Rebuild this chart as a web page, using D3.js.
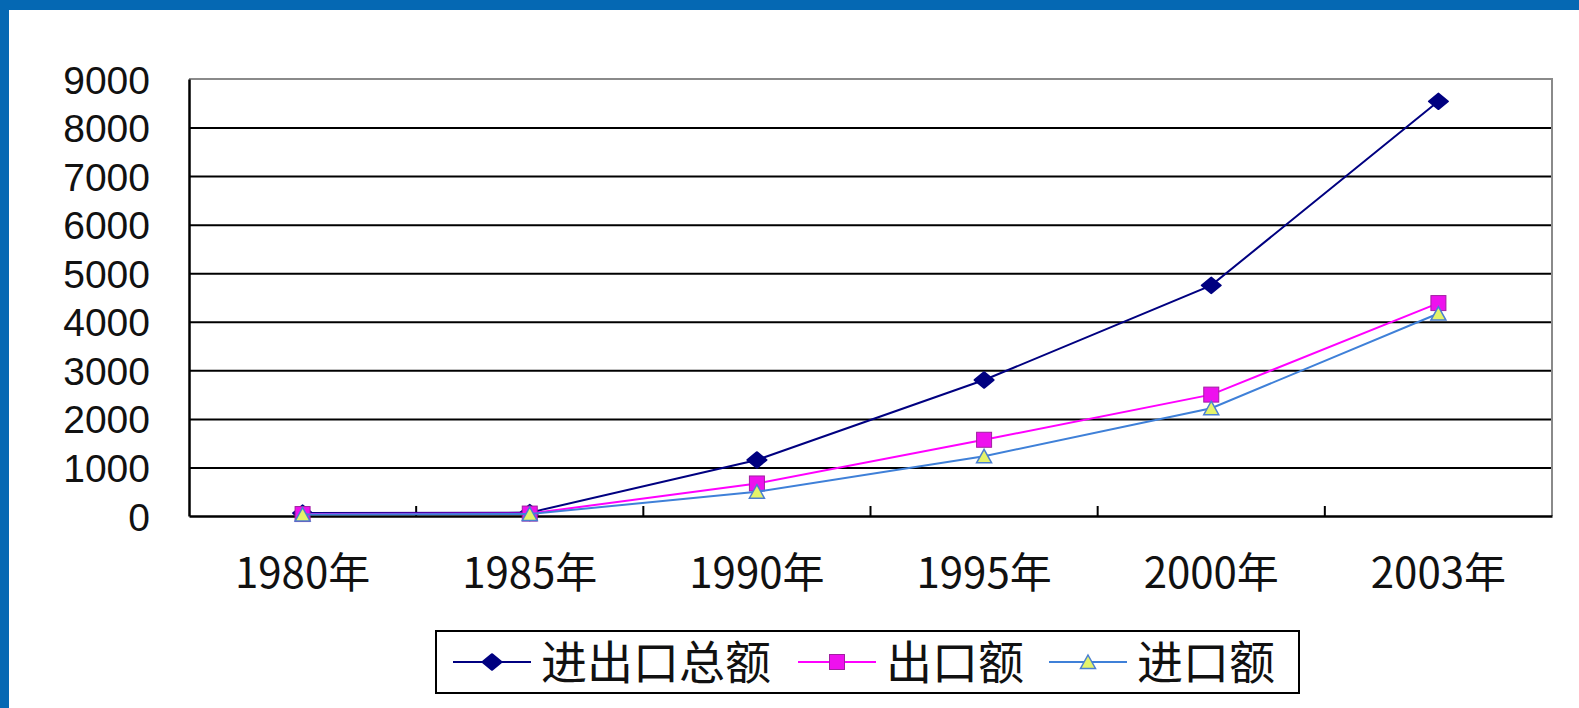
<!DOCTYPE html>
<html>
<head>
<meta charset="utf-8">
<script src="https://cdn.jsdelivr.net/npm/d3@7/dist/d3.min.js"></script>
<style>
html,body{margin:0;padding:0;background:#fff;}
svg{display:block;}
</style>
</head>
<body>
<svg id="chart" width="1579" height="708"></svg>
<script>
// ---- data ----
const years = ["1980年", "1985年", "1990年", "1995年", "2000年", "2003年"];
const totalValues = [60, 70, 1154, 2800, 4750, 8540];
const exportValues = [40, 50, 670, 1570, 2500, 4385];
const importValues = [30, 40, 500, 1230, 2220, 4170];
const seriesNames = ["进出口总额", "出口额", "进口额"];
const yTickValues = [0, 1000, 2000, 3000, 4000, 5000, 6000, 7000, 8000, 9000];

// ---- layout ----
const W = 1579, H = 708;
const plot = {left: 189, right: 1552, top: 79, bottom: 516};
const cjkFont = "'Noto Sans CJK SC','Liberation Sans',sans-serif";
const numFont = "'Liberation Sans','DejaVu Sans',sans-serif";
const svg = d3.select("#chart");

// blue frame
svg.append("rect").attr("x", 0).attr("y", 0).attr("width", W).attr("height", H).attr("fill", "#0568b3");
svg.append("rect").attr("x", 9).attr("y", 10).attr("width", W - 9).attr("height", H - 10).attr("fill", "#ffffff");

const x = d3.scaleBand().domain(years).range([plot.left, plot.right]).paddingInner(0).paddingOuter(0);
const y = d3.scaleLinear().domain([0, 9000]).range([plot.bottom, plot.top]);
const cx = d => x(d) + x.bandwidth() / 2;

// gridlines
const gridAxis = d3.axisLeft(y).tickValues(yTickValues.filter(v => v > 0 && v < 9000))
  .tickSize(-(plot.right - plot.left)).tickFormat("");
const gg = svg.append("g").attr("transform", `translate(${plot.left},0)`).call(gridAxis);
gg.select(".domain").remove();
gg.selectAll(".tick line").attr("stroke", "#000").attr("stroke-width", 2);

// plot border top/right (gray)
svg.append("path")
  .attr("d", `M${plot.left},${y(9000)}H${plot.right}V${plot.bottom}`)
  .attr("fill", "none").attr("stroke", "#8a8a8a").attr("stroke-width", 2);

// y axis labels
const yAxis = d3.axisLeft(y).tickValues(yTickValues).tickSize(0).tickPadding(39).tickFormat(d3.format("d"));
const ya = svg.append("g").attr("transform", `translate(${plot.left},0)`).call(yAxis);
ya.select(".domain").attr("stroke", "#000").attr("stroke-width", 2.5);
ya.selectAll("text").attr("dy", "0.36em")
  .style("font-family", numFont).style("font-size", "39px").style("fill", "#111");

// x axis
const xAxis = d3.axisBottom(x).tickSize(0).tickPadding(42);
const xa = svg.append("g").attr("transform", `translate(0,${plot.bottom})`).call(xAxis);
xa.select(".domain").attr("stroke", "#000").attr("stroke-width", 2.5);
xa.selectAll("text").attr("dy", "0.71em")
  .style("font-family", cjkFont).style("font-size", "42px").style("fill", "#111");

// inner category separator ticks
svg.append("g").selectAll("line").data(years.slice(1)).join("line")
  .attr("x1", d => x(d)).attr("x2", d => x(d))
  .attr("y1", plot.bottom).attr("y2", plot.bottom - 10)
  .attr("stroke", "#000").attr("stroke-width", 2);

// series
const series = [
  {name: seriesNames[0], values: totalValues, color: "#000080", marker: "diamond"},
  {name: seriesNames[1], values: exportValues, color: "#ff00ff", marker: "square"},
  {name: seriesNames[2], values: importValues, color: "#3f80d8", marker: "triangle"}
];

function drawMarker(g, type, color, px, py) {
  if (type === "diamond") {
    g.append("path").attr("d", d3.symbol(d3.symbolDiamond2, 170)())
      .attr("transform", `translate(${px},${py}) scale(1.15,0.95)`)
      .attr("fill", color).attr("stroke", color).attr("stroke-width", 2).attr("stroke-linejoin", "round");
  } else if (type === "square") {
    g.append("rect").attr("x", px - 7.5).attr("y", py - 7.5).attr("width", 15).attr("height", 15)
      .attr("fill", "#ee11ee").attr("stroke", "#a020a0").attr("stroke-width", 1);
  } else {
    g.append("path").attr("d", `M${px},${py - 7}L${px + 7.5},${py + 6.5}L${px - 7.5},${py + 6.5}Z`)
      .attr("fill", "#e4f36a").attr("stroke", "#4a7fd0").attr("stroke-width", 1.5);
  }
}

const line = d3.line().x((d, i) => cx(years[i])).y(d => y(d));
series.forEach(s => {
  const g = svg.append("g");
  g.append("path").datum(s.values).attr("d", line)
    .attr("fill", "none").attr("stroke", s.color).attr("stroke-width", 2);
  s.values.forEach((v, i) => drawMarker(g, s.marker, s.color, cx(years[i]), y(v)));
});

// legend
const lg = svg.append("g");
lg.append("rect").attr("x", 436).attr("y", 631).attr("width", 863).attr("height", 62)
  .attr("fill", "#fff").attr("stroke", "#000").attr("stroke-width", 2);
const legendX = [453, 798, 1049];
series.forEach((s, i) => {
  const lx = legendX[i];
  lg.append("line").attr("x1", lx).attr("x2", lx + 78).attr("y1", 662).attr("y2", 662)
    .attr("stroke", s.color).attr("stroke-width", 2);
  drawMarker(lg, s.marker, s.color, lx + 39, 662);
  lg.append("text").attr("x", lx + 88).attr("y", 662).attr("dy", "0.36em")
    .style("font-family", cjkFont).style("font-size", "46px").style("fill", "#111").text(s.name);
});
</script>
</body>
</html>
